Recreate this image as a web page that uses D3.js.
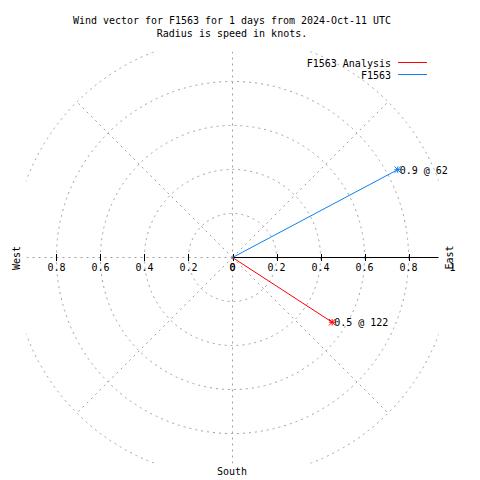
<!DOCTYPE html>
<html><head><meta charset="utf-8">
<script src="https://cdn.jsdelivr.net/npm/d3@7/dist/d3.min.js"></script>
<style>
body{margin:0;background:#fff;}
svg{display:block;}
text{font-family:"DejaVu Sans Mono",monospace;font-size:10px;fill:#000;}
</style></head>
<body>
<svg id="c" width="480" height="480"></svg>
<script>
const titleLines = ["Wind vector for F1563 for 1 days from 2024-Oct-11 UTC", "Radius is speed in knots."];
const seriesNames = ["F1563 Analysis", "F1563"];
const seriesColors = ["#ff0000", "#1080f0"];
const speeds = [0.54, 0.85];
const directions = [123, 62];
const pointLabels = ["0.5 @ 122", "0.9 @ 62"];
const circleRadii = [0.2, 0.4, 0.6, 0.8, 1.0];
const gridAngles = [0, 45, 90, 135, 180, 225, 270, 315];
const rightTicks = [0, 0.2, 0.4, 0.6, 0.8, 1];
const rightTickLabels = ["0", "0.2", "0.4", "0.6", "0.8", "1"];
const leftTicks = [-0.8, -0.6, -0.4, -0.2, 0];
const leftTickLabels = ["0.8", "0.6", "0.4", "0.2", "0"];
const compassLabels = ["East", "South", "West"];

const svg = d3.select("#c");
const lim = 0.936;
const x = d3.scaleLinear().domain([-lim, lim]).range([26.5, 438.5]);
const y = d3.scaleLinear().domain([-lim, lim]).range([463.5, 51.5]);
const r = d3.scaleLinear().domain([0, 1]).range([0, x(1) - x(0)]);
const cx = x(0), cy = y(0);

svg.append("defs").append("clipPath").attr("id", "clip")
  .append("rect").attr("x", x(-lim)).attr("y", y(lim))
  .attr("width", x(lim) - x(-lim)).attr("height", y(-lim) - y(lim));

const grid = svg.append("g").attr("clip-path", "url(#clip)")
  .attr("fill", "none").attr("stroke", "#a0a0a0").attr("stroke-width", 1)
  .attr("stroke-dasharray", "2,4");
grid.selectAll("circle").data(circleRadii).join("circle")
  .attr("cx", cx).attr("cy", cy).attr("r", d => r(d));
grid.selectAll("line").data(gridAngles).join("line")
  .attr("x1", cx).attr("y1", cy)
  .attr("x2", d => x(Math.cos(d * Math.PI / 180)))
  .attr("y2", d => y(Math.sin(d * Math.PI / 180)));

// axis
svg.append("line").attr("x1", cx).attr("y1", cy).attr("x2", x(lim)).attr("y2", cy)
  .attr("stroke", "#000").attr("stroke-width", 1);
const tickVals = leftTicks.concat(rightTicks.filter(d => d > 0 && d < lim));
svg.append("g").selectAll("line").data(tickVals).join("line")
  .attr("x1", d => Math.round(x(d)) + 0.5).attr("x2", d => Math.round(x(d)) + 0.5)
  .attr("y1", cy - 3.5).attr("y2", cy + 3.5).attr("stroke", "#000");

svg.append("g").selectAll("text").data(rightTicks).join("text")
  .attr("x", d => x(d)).attr("y", 271).attr("text-anchor", "middle")
  .text((d, i) => rightTickLabels[i]);
svg.append("g").selectAll("text").data(leftTicks).join("text")
  .attr("x", d => x(d)).attr("y", 271).attr("text-anchor", "middle")
  .text((d, i) => leftTickLabels[i]);

// compass labels
svg.append("text").attr("transform", "translate(453,257.5) rotate(-90)")
  .attr("text-anchor", "middle").text(compassLabels[0]);
svg.append("text").attr("x", 232).attr("y", 475).attr("text-anchor", "middle").text(compassLabels[1]);
svg.append("text").attr("transform", "translate(20,258) rotate(-90)")
  .attr("text-anchor", "middle").text(compassLabels[2]);

// title
svg.append("text").attr("x", 232).attr("y", 24).attr("text-anchor", "middle")
  .attr("textLength", 318).attr("lengthAdjust", "spacingAndGlyphs").text(titleLines[0]);
svg.append("text").attr("x", 232).attr("y", 37).attr("text-anchor", "middle").text(titleLines[1]);

// vectors
const pts = speeds.map((s, i) => {
  const th = (90 - directions[i]) * Math.PI / 180;
  return {px: x(s * Math.cos(th)), py: y(s * Math.sin(th)), c: seriesColors[i], l: pointLabels[i]};
});
const vg = svg.append("g");
pts.forEach(p => {
  vg.append("line").attr("x1", cx).attr("y1", cy).attr("x2", p.px).attr("y2", p.py)
    .attr("stroke", p.c).attr("stroke-width", 1);
  const m = 3.2;
  const star = `M${p.px-m},${p.py}L${p.px+m},${p.py}M${p.px},${p.py-m}L${p.px},${p.py+m}` +
    `M${p.px-m},${p.py-m}L${p.px+m},${p.py+m}M${p.px-m},${p.py+m}L${p.px+m},${p.py-m}`;
  vg.append("path").attr("d", star).attr("stroke", p.c).attr("stroke-width", 1).attr("fill", "none");
  vg.append("text").attr("x", p.px + 2).attr("y", p.py + 4).text(p.l);
});

// legend
const lg = svg.append("g");
seriesNames.forEach((n, i) => {
  const ly = 62.5 + i * 12;
  lg.append("text").attr("x", 391).attr("y", ly + 4.5).attr("text-anchor", "end").text(n);
  lg.append("line").attr("x1", 398).attr("x2", 427).attr("y1", ly).attr("y2", ly)
    .attr("stroke", seriesColors[i]).attr("stroke-width", 1);
});
</script>
</body></html>
